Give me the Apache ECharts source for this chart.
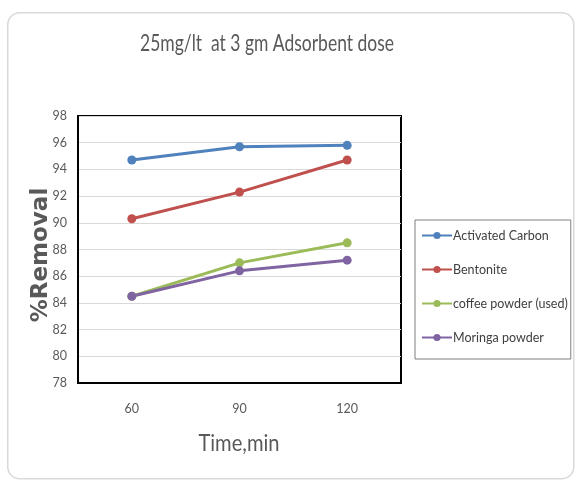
<!DOCTYPE html>
<html><head><meta charset="utf-8">
<script src="https://cdn.jsdelivr.net/npm/echarts@6/dist/echarts.min.js"></script>
<style>html,body{margin:0;padding:0;background:#fff;}#c{width:576px;height:481px;}</style>
</head><body><div id="c"></div>
<script>
var categories = ['60', '90', '120'];
var activatedCarbon = [94.7, 95.7, 95.8];
var bentonite = [90.3, 92.3, 94.7];
var coffeePowder = [84.5, 87.0, 88.5];
var moringaPowder = [84.5, 86.4, 87.2];
var seriesNames = ['Activated Carbon', 'Bentonite', 'coffee powder (used)', 'Moringa powder'];
var seriesColors = ['#4F81BD', '#C0504D', '#9BBB59', '#8064A2'];
var seriesData = [activatedCarbon, bentonite, coffeePowder, moringaPowder];
var titleText = '25mg/lt  at 3 gm Adsorbent dose';
var xName = 'Time,min';
var yName = '%Removal';

var narrow = 'Lato, "Liberation Sans", sans-serif';
var chart = echarts.init(document.getElementById('c'), null, {renderer: 'canvas'});
chart.setOption({
  backgroundColor: '#ffffff',
  animation: false,
  graphic: [{
    type: 'rect', left: 7, top: 12, z: -10,
    shape: {width: 566, height: 466, r: 12},
    style: {fill: '#ffffff', stroke: '#d9d9d9', lineWidth: 1.5}
  }, {
    type: 'text', x: 267, y: 44, scaleX: 0.76,
    style: {text: titleText, font: '23px Lato, sans-serif', fill: '#595959',
      align: 'center', verticalAlign: 'middle'}
  }, {
    type: 'text', x: 239, y: 443, scaleX: 0.84,
    style: {text: xName, font: '24px Lato, sans-serif', fill: '#595959',
      align: 'center', verticalAlign: 'middle'}
  }, {
    type: 'text', x: 41, y: 255, rotation: Math.PI / 2,
    style: {text: yName, font: 'bold 23px "DejaVu Sans", sans-serif', fill: '#595959',
      align: 'center', verticalAlign: 'middle'}
  }],
  legend: {
    orient: 'vertical', left: 415, top: 220,
    padding: [9, 3, 15, 6], itemGap: 21, itemWidth: 30, itemHeight: 9,
    borderColor: '#7f7f7f', borderWidth: 1,
    data: seriesNames,
    textStyle: {fontFamily: narrow, fontSize: 12.5, color: '#404040', padding: [0, 0, 0, -4]}
  },
  grid: {left: 78, top: 116, right: 175, bottom: 98, containLabel: false,
    show: true, borderColor: '#000000', borderWidth: 2},
  xAxis: {
    type: 'category', data: categories, boundaryGap: true,
    axisLine: {show: true, lineStyle: {color: '#000', width: 2}},
    axisTick: {show: false},
    axisLabel: {fontFamily: narrow, fontSize: 12.5, color: '#595959', margin: 19}
  },
  yAxis: {
    type: 'value', min: 78, max: 98, interval: 2,
    axisLine: {show: true, lineStyle: {color: '#000', width: 2}},
    axisTick: {show: false},
    axisLabel: {fontFamily: narrow, fontSize: 12.5, color: '#595959', margin: 11},
    splitLine: {lineStyle: {color: '#d9d9d9', width: 1}}
  },
  series: seriesNames.map(function (n, i) {
    return {
      name: n, type: 'line', data: seriesData[i],
      symbol: 'circle', symbolSize: 9,
      itemStyle: {color: seriesColors[i]},
      lineStyle: {color: seriesColors[i], width: 3}
    };
  })
});
</script></body></html>
